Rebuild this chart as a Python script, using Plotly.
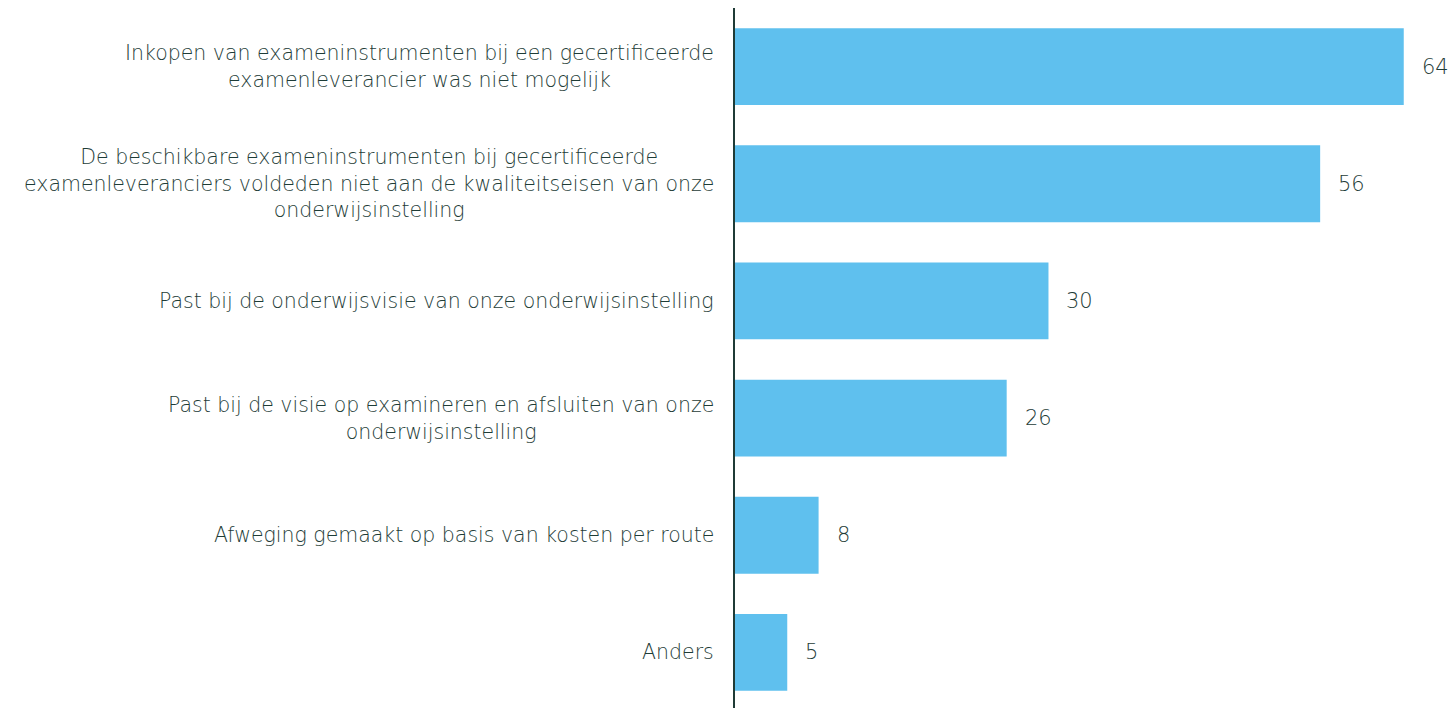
import plotly.graph_objects as go

# categorieën (van boven naar beneden)
categorieen = [
    "Inkopen van exameninstrumenten bij een gecertificeerde<br>examenleverancier was niet mogelijk",
    "De beschikbare exameninstrumenten bij gecertificeerde<br>examenleveranciers voldeden niet aan de kwaliteitseisen van onze<br>onderwijsinstelling",
    "Past bij de onderwijsvisie van onze onderwijsinstelling",
    "Past bij de visie op examineren en afsluiten van onze<br>onderwijsinstelling",
    "Afweging gemaakt op basis van kosten per route",
    "Anders",
]
waarden = [64, 56, 30, 26, 8, 5]

kleur_balk = "#5FC0EE"
kleur_tekst = "#1E3C37"
lettertype = "DejaVu Sans, sans-serif"

fig = go.Figure()
fig.add_trace(go.Bar(
    x=waarden,
    y=categorieen,
    orientation="h",
    marker=dict(color=kleur_balk, line=dict(width=0)),
    hoverinfo="skip",
))

# waardelabels rechts van de balken
for cat, w in zip(categorieen, waarden):
    fig.add_annotation(
        x=w, y=cat, text=str(w),
        xanchor="left", yanchor="middle", xshift=16,
        showarrow=False,
        font=dict(color=kleur_tekst, size=21, family=lettertype, weight=300),
    )

# categorielabels links, gecentreerd uitgelijnd
for cat in categorieen:
    fig.add_annotation(
        x=0, xref="paper", y=cat, text=cat,
        xanchor="right", yanchor="middle", xshift=-19,
        align="center", showarrow=False,
        font=dict(color=kleur_tekst, size=20.5, family=lettertype, weight=300),
    )

fig.update_layout(
    width=1448,
    height=708,
    plot_bgcolor="white",
    paper_bgcolor="white",
    margin=dict(l=727, r=0, t=0, b=5),
    bargap=0.344,
    showlegend=False,
    font=dict(color=kleur_tekst, family=lettertype, size=20),
)
fig.update_xaxes(range=[0, 69.0], visible=False, showgrid=False, zeroline=False)
fig.update_yaxes(
    range=[5.5, -0.5],
    showgrid=False,
    zeroline=False,
    showline=True,
    linecolor="#1F3B36",
    linewidth=2,
    ticks="",
    showticklabels=False,
)

fig.write_html("out.html")
